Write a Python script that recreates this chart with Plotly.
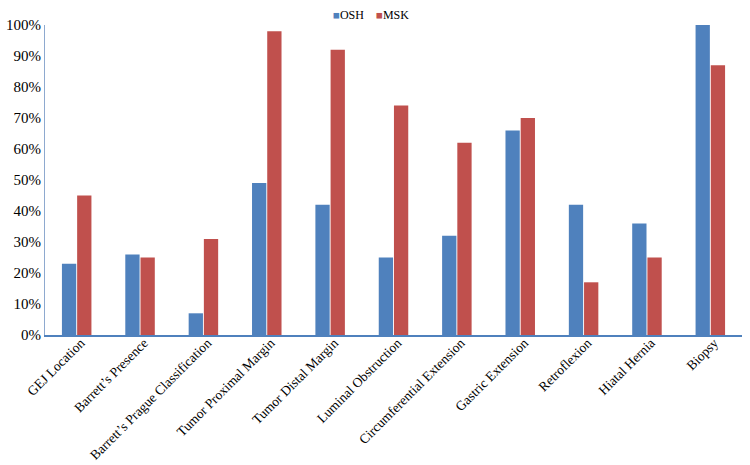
import plotly.graph_objects as go

categories = ["GEJ Location", "Barrett\u2019s Presence", "Barrett\u2019s Prague Classification",
              "Tumor Proximal Margin", "Tumor Distal Margin", "Luminal Obstruction",
              "Circumferential Extension", "Gastric Extension", "Retroflexion",
              "Hiatal Hernia", "Biopsy"]
osh = [23, 26, 7, 49, 42, 25, 32, 66, 42, 36, 100]
msk = [45, 25, 31, 98, 92, 74, 62, 70, 17, 25, 87]
series_names = ["OSH", "MSK"]
series_colors = ["#4F81BD", "#C0504D"]
y_ticks = list(range(0, 101, 10))
y_tick_labels = [f"{v}%" for v in y_ticks]

fig = go.Figure()
for name, vals, col in zip(series_names, [osh, msk], series_colors):
    fig.add_trace(go.Bar(name=name, x=categories, y=vals, showlegend=False,
                         marker=dict(color=col, line=dict(width=0))))

font_family = "Liberation Serif, Times New Roman, serif"

# compact legend (small square swatch right next to each series name)
legend_text = "&nbsp;&nbsp;&nbsp;&nbsp;".join(
    f"<span style='color:{c};font-size:11.5px'>\u25A0</span>{n}"
    for n, c in zip(series_names, series_colors))
fig.add_annotation(text=legend_text, xref="paper", yref="paper", x=0.468, y=1.032,
                   xanchor="center", yanchor="middle", showarrow=False,
                   font=dict(size=12, family=font_family, color="black"))

fig.update_layout(
    width=750, height=465,
    margin=dict(l=45, r=8, t=25, b=130, autoexpand=False),
    paper_bgcolor="white", plot_bgcolor="white",
    barmode="group", bargap=0.52, bargroupgap=0.06,
    font=dict(family=font_family, color="black"),
    showlegend=False,
    xaxis=dict(showgrid=False, showline=True, linecolor="#4F81BD", linewidth=1.5,
               tickangle=-45, tickfont=dict(size=13.5, family=font_family), ticks="",
               automargin=False, ticklabelstandoff=-7, ticklabelshift=4),
    yaxis=dict(range=[0, 100], tickvals=y_ticks, ticktext=y_tick_labels, showgrid=False,
               showline=True, linecolor="#8EA9CF", linewidth=1, zeroline=False,
               tickfont=dict(size=15, family=font_family), ticks="", automargin=False),
)
fig.write_html("out.html", config={"displayModeBar": False},
               post_script="document.body.style.margin='0';")
